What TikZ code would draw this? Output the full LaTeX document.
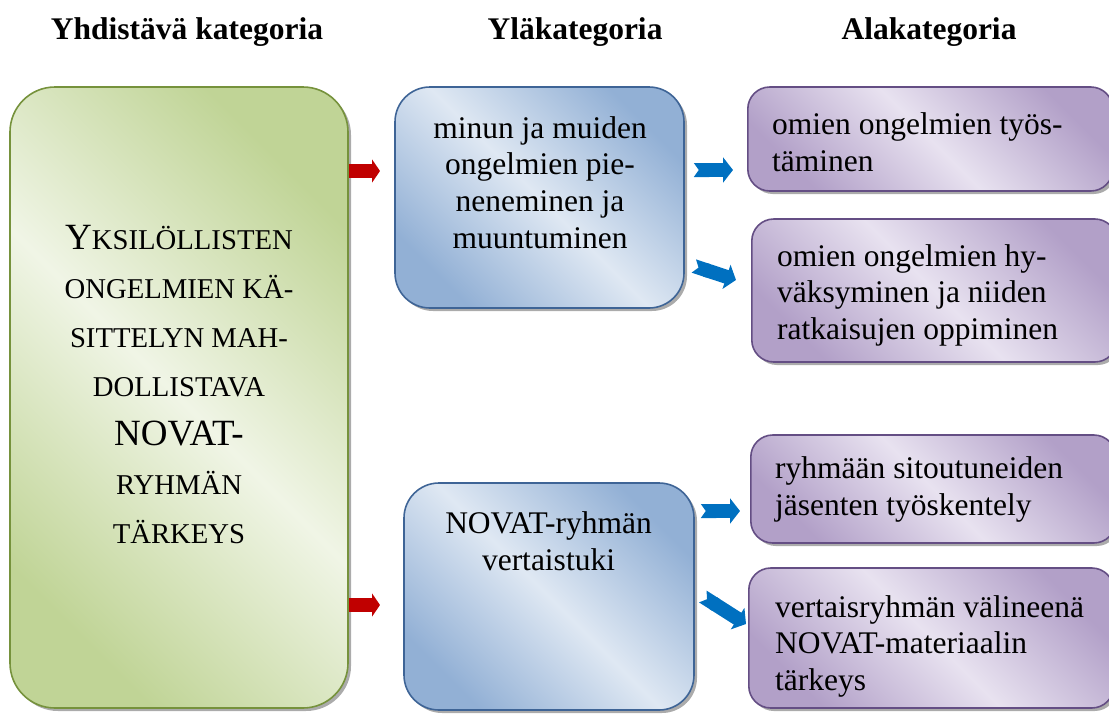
\documentclass[tikz,border=0pt]{standalone}
\usepackage{fontspec}
\setmainfont{Liberation Serif}
\usetikzlibrary{positioning,arrows.meta,shadows,calc}

\definecolor{grnline}{RGB}{118,146,60}
\definecolor{grndark}{RGB}{192,212,150}
\definecolor{grnlight}{RGB}{240,245,230}
\definecolor{bluline}{RGB}{62,100,150}
\definecolor{bludark}{RGB}{146,176,213}
\definecolor{blulight}{RGB}{223,232,243}
\definecolor{purline}{RGB}{100,78,132}
\definecolor{purdark}{RGB}{178,160,200}
\definecolor{purlight}{RGB}{232,226,240}
\definecolor{arrred}{RGB}{192,0,0}
\definecolor{arrblue}{RGB}{0,112,192}

\tikzset{
headtitle/.style={
inner sep=0pt,
anchor=base,
font=\bfseries\fontsize{31.5}{36}\selectfont
},
box/.style={
draw,
line width=1.6pt,
inner sep=0pt,
drop shadow={shadow xshift=3pt,shadow yshift=-3pt,fill=black!55,opacity=0.6}
},
grnbox/.style={
box,
rounded corners=45pt,
draw=grnline,
top color=grndark,bottom color=grndark,middle color=grnlight,
shading angle=-45
},
blubox/.style={
box,
rounded corners=35pt,
draw=bluline,
top color=bludark,bottom color=bludark,middle color=blulight,
shading angle=-45
},
purbox/.style={
box,
rounded corners=22pt,
draw=purline,
top color=purdark,bottom color=purdark,middle color=purlight,
shading angle=-45,
minimum width=365pt
},
boxtxt/.style={
inner sep=0pt,
anchor=north,
align=center,
font=\fontsize{31.5}{36.8}\selectfont
},
purtxt/.style={
boxtxt,
anchor=north west,
align=left
},
redarrow/.style={
color=arrred,
line width=14pt,
-{Triangle[length=8pt,width=23pt]}
},
bluearrow/.style={
color=arrblue,
line width=14pt,
{Triangle Cap[reversed,length=5pt]}-{Triangle[length=10pt,width=25pt]}
}
}

\begin{document}
\begin{tikzpicture}[x=1pt,y=-1pt]
\useasboundingbox (0,0) rectangle (1109,713);

% column titles
\node[headtitle](hyhd) at (187,39){Yhdistävä kategoria};
\node[headtitle](hyla) at (575,39){Yläkategoria};
\node[headtitle](hala) at (929,39){Alakategoria};

% boxes
\node[grnbox,minimum width=338pt,minimum height=621pt](green) at (179,397.5){};
\node[blubox,minimum width=289pt,minimum height=221pt](blue1) at (539.5,197.5){};
\node[blubox,minimum width=290pt,minimum height=227pt](blue2) at (549,596.5){};
\node[purbox,minimum height=104pt,anchor=west](pur1) at (747,139){};
\node[purbox,minimum height=143pt,anchor=west](pur2) at (751,290.5){};
\node[purbox,minimum height=108pt,anchor=west](pur3) at (750,489){};
\node[purbox,minimum height=140pt,anchor=west](pur4) at (748,638){};

% texts
\node[boxtxt,font=\fontsize{28.7}{49}\selectfont](greentxt) at (179,225.5){%
{\fontsize{37}{49}\selectfont Y}KSILÖLLISTEN\\
ONGELMIEN KÄ-\\
SITTELYN MAH-\\
DOLLISTAVA\\
{\fontsize{37}{49}\selectfont NOVAT-}\\
RYHMÄN\\
TÄRKEYS};
\node[boxtxt](blue1txt) at (540,116){minun ja muiden\\ongelmien pie-\\neneminen ja\\muuntuminen};
\node[boxtxt](blue2txt) at (548.5,511.5){NOVAT-ryhmän\\vertaistuki};
\node[purtxt](pur1txt) at (772,112.5){omien ongelmien työs-\\täminen};
\node[purtxt](pur2txt) at (777,244){omien ongelmien hy-\\väksyminen ja niiden\\ratkaisujen oppiminen};
\node[purtxt](pur3txt) at (775,456.5){ryhmään sitoutuneiden\\jäsenten työskentely};
\node[purtxt](pur4txt) at (775,595){vertaisryhmän välineenä\\NOVAT-materiaalin\\tärkeys};

% arrows
\coordinate (r1) at (380,171);
\coordinate (r2) at (380,605);
\draw[redarrow](green.east |- r1)--(r1);
\draw[redarrow](green.east |- r2)--(r2);

\coordinate (t1) at (733,170);
\coordinate (t2) at (736,280);
\coordinate (t3) at (740,511);
\coordinate (t4) at (746,624);
\draw[bluearrow]([xshift=9pt]blue1.east |- t1)--(t1);
\draw[bluearrow]($(blue1.east)+(9,68.5)$)--(t2);
\draw[bluearrow]([xshift=6pt]blue2.east |- t3)--(t3);
\draw[bluearrow]($(blue2.east)+(8,0)$)--(t4);
\end{tikzpicture}
\end{document}
